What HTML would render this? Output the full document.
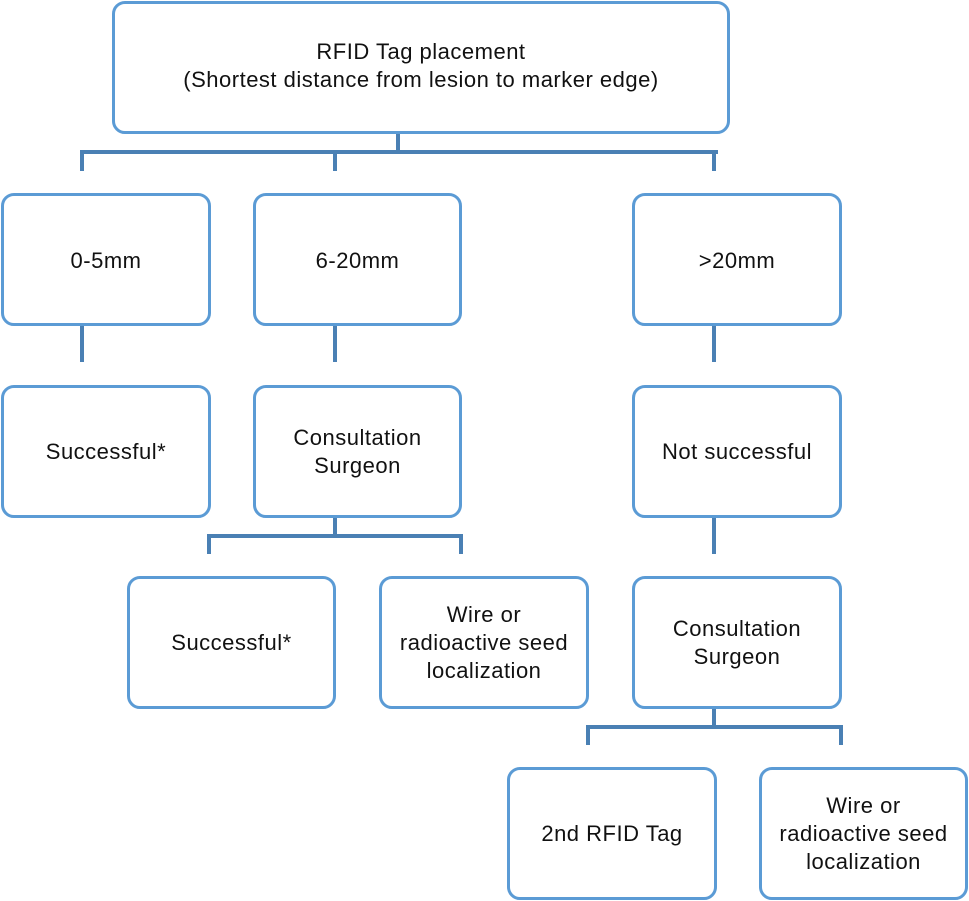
<!DOCTYPE html>
<html><head><style>
body{margin:0;width:969px;height:901px;background:#fff;position:relative;overflow:hidden;font-family:"Liberation Sans",sans-serif;}
.b{position:absolute;box-sizing:border-box;border:3px solid #5b9bd5;border-radius:13px;display:flex;align-items:center;justify-content:center;text-align:center;font-size:22px;letter-spacing:0.5px;line-height:28px;color:#111;background:#fff;}
.l{position:absolute;background:#4a80b4;}
</style></head><body>
<div class="l" style="left:396px;top:132px;width:4px;height:22px"></div>
<div class="l" style="left:80px;top:150px;width:638px;height:4px"></div>
<div class="l" style="left:80px;top:150px;width:4px;height:21px"></div>
<div class="l" style="left:333px;top:150px;width:4px;height:21px"></div>
<div class="l" style="left:712px;top:150px;width:4px;height:21px"></div>
<div class="l" style="left:80px;top:324px;width:4px;height:38px"></div>
<div class="l" style="left:333px;top:324px;width:4px;height:38px"></div>
<div class="l" style="left:712px;top:324px;width:4px;height:38px"></div>
<div class="l" style="left:333px;top:516px;width:4px;height:22px"></div>
<div class="l" style="left:207px;top:534px;width:256px;height:4px"></div>
<div class="l" style="left:207px;top:534px;width:4px;height:20px"></div>
<div class="l" style="left:459px;top:534px;width:4px;height:20px"></div>
<div class="l" style="left:712px;top:516px;width:4px;height:38px"></div>
<div class="l" style="left:712px;top:707px;width:4px;height:22px"></div>
<div class="l" style="left:586px;top:725px;width:257px;height:4px"></div>
<div class="l" style="left:586px;top:725px;width:4px;height:20px"></div>
<div class="l" style="left:839px;top:725px;width:4px;height:20px"></div>
<div class="b" style="left:112px;top:1px;width:618px;height:133px;padding-bottom:4px">RFID Tag placement<br>(Shortest distance from lesion to marker edge)</div>
<div class="b" style="left:1px;top:193px;width:210px;height:133px;padding-top:3px">0-5mm</div>
<div class="b" style="left:253px;top:193px;width:209px;height:133px;padding-top:3px">6-20mm</div>
<div class="b" style="left:632px;top:193px;width:210px;height:133px;padding-top:3px">&gt;20mm</div>
<div class="b" style="left:1px;top:385px;width:210px;height:133px">Successful*</div>
<div class="b" style="left:253px;top:385px;width:209px;height:133px">Consultation<br>Surgeon</div>
<div class="b" style="left:632px;top:385px;width:210px;height:133px">Not successful</div>
<div class="b" style="left:127px;top:576px;width:209px;height:133px">Successful*</div>
<div class="b" style="left:379px;top:576px;width:210px;height:133px">Wire or<br>radioactive seed<br>localization</div>
<div class="b" style="left:632px;top:576px;width:210px;height:133px">Consultation<br>Surgeon</div>
<div class="b" style="left:507px;top:767px;width:210px;height:133px">2nd RFID Tag</div>
<div class="b" style="left:759px;top:767px;width:209px;height:133px">Wire or<br>radioactive seed<br>localization</div>
</body></html>
